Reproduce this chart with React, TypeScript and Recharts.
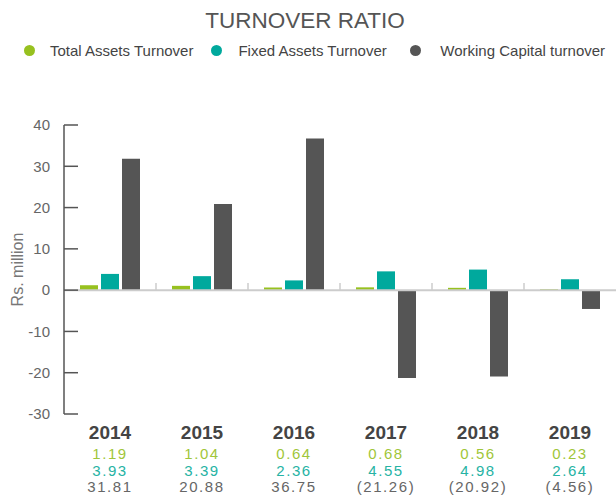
import React from 'react';
import { BarChart, Bar, XAxis, YAxis, ReferenceLine } from 'recharts';

const years = ['2014', '2015', '2016', '2017', '2018', '2019'];
const totalAssets = [1.19, 1.04, 0.64, 0.68, 0.56, 0.23];
const fixedAssets = [3.93, 3.39, 2.36, 4.55, 4.98, 2.64];
const workingCapital = [31.81, 20.88, 36.75, -21.26, -20.92, -4.56];
const yTicks = [-30, -20, -10, 0, 10, 20, 30, 40];

const seriesNames = ['Total Assets Turnover', 'Fixed Assets Turnover', 'Working Capital turnover'];
const barColors = ['#97c11f', '#00a99d', '#555555'];
const textColors = ['#9fc63a', '#26b3a4', '#666666'];
const legendDotGap = [15, 16, 19];
const legendItemGap = [18, 23.5, 0];

const data = years.map((y, i) => ({
  year: y,
  tat: totalAssets[i],
  fat: fixedAssets[i],
  wct: workingCapital[i],
}));

const fmt = (v: number) => (v < 0 ? `(${Math.abs(v).toFixed(2)})` : v.toFixed(2));

const XTick = (props: any) => {
  const { x, y, payload } = props;
  const i = payload.index;
  const rows = [totalAssets[i], fixedAssets[i], workingCapital[i]];
  return (
    <g>
      <text x={x} y={y + 25} textAnchor="middle" fontSize={19} fontWeight="bold" fill="#444">
        {payload.value}
      </text>
      {rows.map((v, k) => (
        <text
          key={k}
          x={x}
          y={y + 45 + k * 16.7}
          textAnchor="middle"
          fontSize={15}
          letterSpacing={1.6}
          fill={textColors[k]}
        >
          {fmt(v)}
        </text>
      ))}
    </g>
  );
};

const YLabel = (props: any) => {
  const vb = props.viewBox;
  const cx = vb.x + 17;
  const cy = vb.y + vb.height / 2;
  return (
    <text
      x={cx}
      y={cy}
      transform={`rotate(-90 ${cx} ${cy})`}
      textAnchor="middle"
      dominantBaseline="central"
      fontSize={16}
      fill="#777"
    >
      Rs. million
    </text>
  );
};

export default function App() {
  return (
    <div
      style={{
        position: 'absolute',
        left: 0,
        top: 0,
        width: 616,
        height: 497,
        fontFamily: '"Liberation Sans", Arial, sans-serif',
        background: '#fff',
      }}
    >
      <div
        style={{
          position: 'absolute',
          left: 0,
          top: 10.3,
          width: 610,
          textAlign: 'center',
          fontSize: 22.5,
          lineHeight: '22.5px',
          color: '#555',
        }}
      >
        TURNOVER RATIO
      </div>
      <div
        style={{
          position: 'absolute',
          left: 24,
          top: 43.3,
          display: 'flex',
          alignItems: 'center',
          fontSize: 15,
          lineHeight: '15px',
          color: '#444',
          whiteSpace: 'nowrap',
        }}
      >
        {seriesNames.map((n, k) => (
          <div key={n} style={{ display: 'flex', alignItems: 'center', marginRight: legendItemGap[k] }}>
            <span
              style={{
                display: 'inline-block',
                width: 11,
                height: 11,
                borderRadius: '50%',
                background: barColors[k],
                marginRight: legendDotGap[k],
              }}
            />
            <span>{n}</span>
          </div>
        ))}
      </div>
      <div style={{ position: 'absolute', left: 0, top: 0 }}>
        <BarChart
          width={616}
          height={497}
          data={data}
          margin={{ top: 125, right: 0, bottom: 0, left: 0 }}
          barSize={18}
          barGap={3}
        >
          <YAxis
            width={64}
            domain={[-30, 40]}
            ticks={yTicks}
            interval={0}
            tickSize={-14}
            tickMargin={28}
            axisLine={{ stroke: '#555', strokeWidth: 1.5 }}
            tickLine={{ stroke: '#555', strokeWidth: 1.5 }}
            tick={{ fill: '#666', fontSize: 15 }}
            label={<YLabel />}
          />
          <XAxis
            dataKey="year"
            height={83}
            axisLine={false}
            tickLine={false}
            tickSize={0}
            tickMargin={0}
            interval={0}
            tick={<XTick />}
          />
          <ReferenceLine y={0} stroke="#cccccc" strokeWidth={2} />
          {years.slice(1).map((y) => (
            <ReferenceLine
              key={y}
              segment={[
                { x: y, y: 0 },
                { x: y, y: 1.7 },
              ]}
              position="start"
              stroke="#cccccc"
              strokeWidth={1.5}
            />
          ))}
          <Bar dataKey="tat" fill={barColors[0]} isAnimationActive={false} />
          <Bar dataKey="fat" fill={barColors[1]} isAnimationActive={false} />
          <Bar dataKey="wct" fill={barColors[2]} isAnimationActive={false} />
        </BarChart>
      </div>
    </div>
  );
}
